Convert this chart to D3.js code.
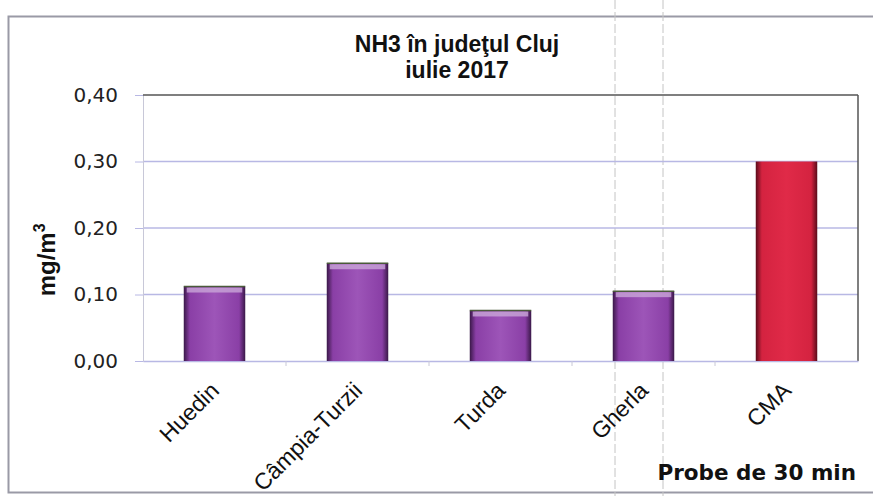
<!DOCTYPE html>
<html>
<head>
<meta charset="utf-8">
<script src="https://cdn.jsdelivr.net/npm/d3@7"></script>
<style>
	body { margin: 0; background: #fff; }
	svg { display: block; }
</style>
</head>
<body>
<script>
	'use strict';
	// data
	var categories = ["Huedin", "Câmpia-Turzii", "Turda", "Gherla", "CMA"];
	var values = [0.112, 0.147, 0.076, 0.105, 0.30];
	var yTicks = [0, 0.1, 0.2, 0.3, 0.4];
	var titleLines = ["NH3 în judeţul Cluj", "iulie 2017"];
	var yAxisLabel = "mg/m";
	var xAxisLabel = "Probe de 30 min";

	var W = 873, H = 496;
	var margin = { top: 95, right: 15, bottom: 135, left: 143 },
		width = W - margin.left - margin.right,
		height = H - margin.top - margin.bottom;

	var svg = d3.select("body").append("svg")
		.attr("width", W).attr("height", H);

	// outer chart frame
	svg.append("rect")
		.attr("x", 8.5).attr("y", 16.5)
		.attr("width", W + 10).attr("height", 476)
		.attr("fill", "none").attr("stroke", "#9a9aa6").attr("stroke-width", 2);

	// faint scanner streaks seen in the reference
	svg.append("g").selectAll("line")
		.data([615, 663])
		.join("line")
		.attr("x1", d => d).attr("x2", d => d)
		.attr("y1", 0).attr("y2", H)
		.attr("stroke", "#c4c4c4").attr("stroke-width", 1)
		.attr("stroke-dasharray", "9,3");

	var defs = svg.append("defs");
	function barGradient(id, dark, mid, light) {
		var g = defs.append("linearGradient").attr("id", id)
			.attr("x1", "0%").attr("x2", "100%").attr("y1", "0%").attr("y2", "0%");
		g.append("stop").attr("offset", "0%").attr("stop-color", dark);
		g.append("stop").attr("offset", "10%").attr("stop-color", mid);
		g.append("stop").attr("offset", "50%").attr("stop-color", light);
		g.append("stop").attr("offset", "90%").attr("stop-color", mid);
		g.append("stop").attr("offset", "100%").attr("stop-color", dark);
	}
	barGradient("purpleGrad", "#3a1848", "#8a3fa6", "#9d55b8");
	barGradient("redGrad", "#5a0c1a", "#d42340", "#e02a48");

	var g = svg.append("g")
		.attr("transform", "translate(" + margin.left + "," + margin.top + ")");

	var x = d3.scaleBand().domain(categories).range([0, width]).paddingInner(0.57).paddingOuter(0.285);
	var xBand = d3.scaleBand().domain(categories).range([0, width]);
	var y = d3.scaleLinear().domain([0, 0.4]).range([height, 0]);

	// gridlines
	g.append("g").selectAll("line")
		.data(yTicks.slice(1, 4))
		.join("line")
		.attr("x1", 0).attr("x2", width)
		.attr("y1", d => y(d)).attr("y2", d => y(d))
		.attr("stroke", "#b8b8e4").attr("stroke-width", 1.3);

	// y axis
	var yAxis = d3.axisLeft(y)
		.tickValues(yTicks)
		.tickSize(8)
		.tickFormat(d => d3.format(".2f")(d).replace(".", ","));
	var yAxisG = g.append("g").call(yAxis);
	yAxisG.select(".domain").attr("stroke", "#c8c8d8");
	yAxisG.selectAll(".tick line").attr("stroke", "#b8b8e4");
	yAxisG.selectAll(".tick text")
		.attr("x", -25)
		.attr("font-family", "'DejaVu Sans', sans-serif")
		.attr("font-size", 20)
		.attr("fill", "#222");

	// plot frame top / right
	g.append("line").attr("x1", 0).attr("x2", width).attr("y1", 0).attr("y2", 0)
		.attr("stroke", "#555").attr("stroke-width", 1.5);
	g.append("line").attr("x1", width).attr("x2", width).attr("y1", 0).attr("y2", height)
		.attr("stroke", "#555").attr("stroke-width", 1.5);

	// x axis baseline with ticks
	var xAxis = d3.axisBottom(xBand).tickSize(0).tickFormat("");
	var xAxisG = g.append("g").attr("transform", "translate(0," + height + ")").call(xAxis);
	xAxisG.select(".domain").attr("stroke", "#b8b8e4").attr("stroke-width", 1.3);
	g.append("g").attr("transform", "translate(0," + height + ")")
		.selectAll("line").data(categories.slice(1))
		.join("line")
		.attr("x1", d => xBand(d)).attr("x2", d => xBand(d))
		.attr("y1", 0).attr("y2", 5)
		.attr("stroke", "#c8c8d8");

	// bars
	var bars = g.append("g").selectAll("g.bar")
		.data(categories.map((c, i) => ({ cat: c, val: values[i] })))
		.join("g").attr("class", "bar");
	bars.append("rect")
		.attr("x", d => x(d.cat))
		.attr("y", d => y(d.val))
		.attr("width", x.bandwidth())
		.attr("height", d => height - y(d.val))
		.attr("fill", d => d.cat === "CMA" ? "url(#redGrad)" : "url(#purpleGrad)");
	// top bevel highlight
	bars.filter(d => d.cat !== "CMA").append("rect")
		.attr("x", d => x(d.cat) + 3)
		.attr("y", d => y(d.val) + 1)
		.attr("width", x.bandwidth() - 6)
		.attr("height", 5)
		.attr("fill", "#c9a6d8").attr("opacity", 0.8);
	bars.filter(d => d.cat !== "CMA").append("line")
		.attr("x1", d => x(d.cat)).attr("x2", d => x(d.cat) + x.bandwidth())
		.attr("y1", d => y(d.val)).attr("y2", d => y(d.val))
		.attr("stroke", "#4a5a3a").attr("stroke-width", 1.5);

	// x category labels, rotated
	g.append("g").selectAll("text")
		.data(categories)
		.join("text")
		.attr("transform", d => "translate(" + (xBand(d) + xBand.bandwidth() / 2 + 6) + "," + (height + 31) + ")rotate(-45)")
		.attr("text-anchor", "end")
		.attr("font-family", "'Liberation Sans', Arial, sans-serif")
		.attr("font-size", 23)
		.attr("fill", "#111")
		.text(d => d);

	// title
	svg.append("g").selectAll("text")
		.data(titleLines)
		.join("text")
		.attr("x", 457).attr("y", (d, i) => 52 + i * 26)
		.attr("text-anchor", "middle")
		.attr("font-family", "'Liberation Sans', Arial, sans-serif")
		.attr("font-weight", "bold")
		.attr("font-size", 23)
		.attr("fill", "#111")
		.text(d => d);

	// y axis label
	var yl = svg.append("text")
		.attr("transform", "translate(55," + (margin.top + height * 0.62) + ")rotate(-90)")
		.attr("text-anchor", "middle")
		.attr("font-family", "'Liberation Sans', Arial, sans-serif")
		.attr("font-weight", "bold")
		.attr("font-size", 24)
		.attr("fill", "#111");
	yl.append("tspan").text(yAxisLabel);
	yl.append("tspan").attr("dy", -10).attr("font-size", 16).text("3");

	// x axis title
	svg.append("text")
		.attr("x", margin.left + width - 2).attr("y", 480)
		.attr("text-anchor", "end")
		.attr("font-family", "'DejaVu Sans', sans-serif")
		.attr("font-weight", "bold")
		.attr("font-size", 21.5)
		.attr("fill", "#111")
		.text(xAxisLabel);
</script>
</body>
</html>
